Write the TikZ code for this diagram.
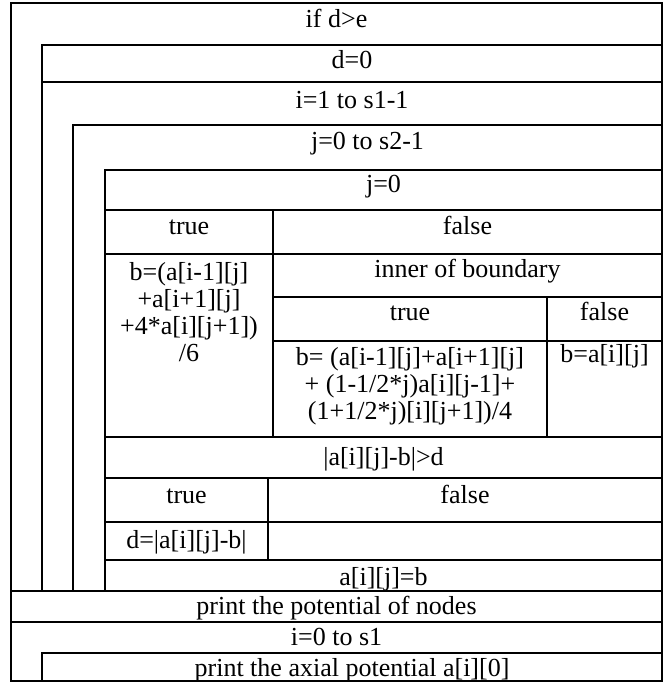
\documentclass[tikz,border=0pt]{standalone}
\usepackage{fontspec}
\setmainfont{Liberation Serif}
\begin{document}
\begin{tikzpicture}[x=1pt,y=-1pt,line width=2pt,line cap=rect,
  lbl/.style={font=\fontsize{26}{28}\selectfont,inner sep=0pt,anchor=base},
  mlbl/.style={font=\fontsize{26}{27}\selectfont,inner sep=0pt,anchor=north,align=center}]
\useasboundingbox (0,0) rectangle (670,683);

% outer frame
\draw (11,3) rectangle (662,681);

% while d>e loop: header and body frame
\draw (42,45) -- (662,45);
\draw (42,82) -- (662,82);
\draw (42,45) -- (42,591);
% i loop
\draw (73,125) -- (662,125);
\draw (73,125) -- (73,591);
% j loop
\draw (105,170) -- (662,170);
\draw (105,170) -- (105,591);
% if j=0
\draw (105,210) -- (662,210);
\draw (105,254) -- (662,254);
\draw (273,210) -- (273,437);
% inner of boundary
\draw (273,297) -- (662,297);
\draw (273,341) -- (662,341);
\draw (547,297) -- (547,437);
\draw (105,437) -- (662,437);
% if |a-b|>d
\draw (105,478) -- (662,478);
\draw (105,522) -- (662,522);
\draw (268,478) -- (268,560);
\draw (105,560) -- (662,560);
% end of loops and output
\draw (11,591) -- (662,591);
\draw (11,622) -- (662,622);
\draw (42,653) -- (662,653);
\draw (42,653) -- (42,681);

% texts
\node[lbl] (cond)  at (336.5,27)  {if d>e};
\node[lbl] (dinit) at (352,68)    {d=0};
\node[lbl] (iloop) at (352,108)   {i=1 to s1-1};
\node[lbl] (jloop) at (367.5,149) {j=0 to s2-1};
\node[lbl] (jz)    at (383.5,192) {j=0};
\node[lbl] (t1)    at (189,234)   {true};
\node[lbl] (f1)    at (467.5,234) {false};
\node[mlbl] (bedge) at (189,261)  {b=(a[i-1][j]\\+a[i+1][j]\\+4*a[i][j+1])\\/6};
\node[lbl] (inner) at (467.5,277) {inner of boundary};
\node[lbl] (t2)    at (410,320)   {true};
\node[lbl] (f2)    at (604.5,320) {false};
\node[mlbl] (binner) at (410,346) {b= (a[i-1][j]+a[i+1][j]\\+ (1-1/2*j)a[i][j-1]+\\(1+1/2*j)[i][j+1])/4};
\node[lbl] (bkeep) at (604.5,362) {b=a[i][j]};
\node[lbl] (cmp)   at (383.5,465) {|a[i][j]-b|>d};
\node[lbl] (t3)    at (186.5,503) {true};
\node[lbl] (f3)    at (465,503)   {false};
\node[lbl] (dset)  at (186.5,548) {d=|a[i][j]-b|};
\node[lbl] (assign) at (383.5,585) {a[i][j]=b};
\node[lbl] (pr1)   at (336.5,614) {print the potential of nodes};
\node[lbl] (iout)  at (336.5,645) {i=0 to s1};
\node[lbl] (pr2)   at (352,676)   {print the axial potential a[i][0]};
\end{tikzpicture}
\end{document}
